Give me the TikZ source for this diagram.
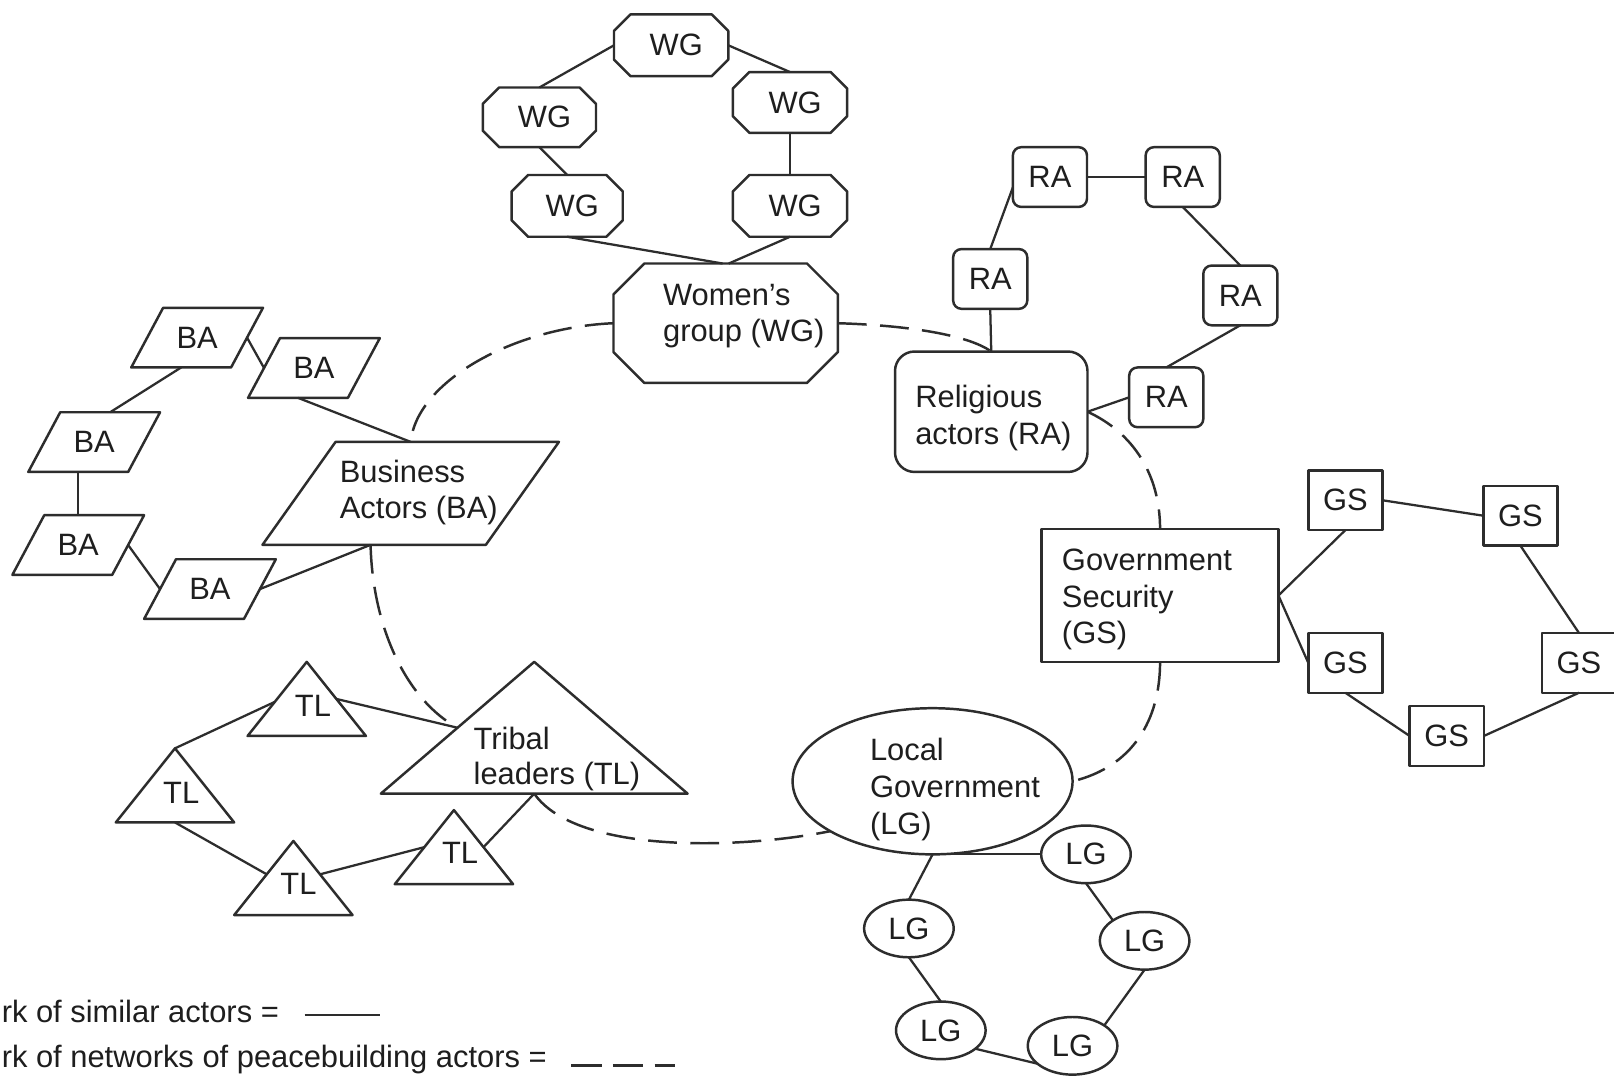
\documentclass[tikz,border=0pt]{standalone}
\usepackage{fontspec}
\setmainfont{Liberation Sans}
\usetikzlibrary{calc,shapes.geometric}
\definecolor{ink}{RGB}{45,45,45}
\definecolor{txtc}{RGB}{30,30,30}
\newcommand{\drawocta}[2]{\draw[shp] ([xshift=#2pt]#1.north west) -- ([xshift=-#2pt]#1.north east) -- ([yshift=-#2pt]#1.north east) -- ([yshift=#2pt]#1.south east) -- ([xshift=-#2pt]#1.south east) -- ([xshift=#2pt]#1.south west) -- ([yshift=#2pt]#1.south west) -- ([yshift=-#2pt]#1.north west) -- cycle;}
\newcommand{\drawpgram}[2]{\draw[shp] ([xshift=#2pt]#1.north west) -- (#1.north east) -- ([xshift=-#2pt]#1.south east) -- (#1.south west) -- cycle;}
\newcommand{\drawtri}[1]{\draw[shp] (#1.south west) -- (#1.north) -- (#1.south east) -- cycle;}
\begin{document}
\begin{tikzpicture}[x=1pt,y=-1pt,
  every node/.style={font=\fontsize{30}{36}\selectfont, text=txtc},
  sz/.style 2 args={inner sep=0pt, outer sep=0pt, minimum width=#1pt, minimum height=#2pt},
  shp/.style={draw=ink, line width=2.4pt, line join=round},
  link/.style={draw=ink, line width=2.2pt},
  netlink/.style={draw=ink, line width=2.4pt, dash pattern=on 28pt off 13pt},
  rbox/.style={shp, rounded corners=8pt, sz={72}{58}},
  gbox/.style={shp, sz={72}{58}},
  lgell/.style={shp, ellipse, sz={87}{56}},
  txt/.style={anchor=base west, inner sep=0pt}]
\fill[white] (0,0) rectangle (1568,1046);
\useasboundingbox (0,0) rectangle (1568,1046);

% ---------- Women's group ----------
\node[sz={111}{60}] (wg1) at (652,44) {\kern10pt WG};
\node[sz={110}{58}] (wg2) at (524,114) {\kern10pt WG};
\node[sz={111}{59}] (wg3) at (767.5,99.5) {\kern10pt WG};
\node[sz={108}{60}] (wg4) at (551,200) {\kern10pt WG};
\node[sz={111}{60}] (wg5) at (767.5,200) {\kern10pt WG};
\node[sz={218}{116}] (wgB) at (705,314) {};
\drawocta{wg1}{16}
\drawocta{wg2}{16}
\drawocta{wg3}{16}
\drawocta{wg4}{16}
\drawocta{wg5}{16}
\drawocta{wgB}{30}
\node[txt] (wgBt1) at (644,297) {Women's};
\node[txt] (wgBt2) at (644,332) {group (WG)};
\draw[link] (wg1.west) -- (wg2.north);
\draw[link] (wg1.east) -- (wg3.north);
\draw[link] (wg3.south) -- (wg5.north);
\draw[link] (wg2.south) -- (wg4.north);
\draw[link] (wg4.south) -- ([xshift=-3pt]wgB.north);
\draw[link] (wg5.south) -- ([xshift=3pt]wgB.north);

% ---------- Religious actors ----------
\node[rbox] (ra1) at (1020,172) {RA};
\node[rbox] (ra2) at (1149,172) {RA};
\node[rbox] (ra3) at (962,271) {RA};
\node[rbox] (ra4) at (1205,287) {RA};
\node[rbox] (ra5) at (1133,386) {RA};
\node[shp, rounded corners=19pt, sz={187}{117}] (raB) at (963,400) {};
\node[txt] (raBt1) at (889,396) {Religious};
\node[txt] (raBt2) at (889,432) {actors (RA)};
\draw[link] (ra1.east) -- (ra2.west);
\draw[link] ([yshift=-10pt]ra1.west) -- (ra3.north);
\draw[link] (ra2.south) -- (ra4.north);
\draw[link] (ra4.south) -- (ra5.north);
\draw[link] (ra5.west) -- (raB.east);
\draw[link] (ra3.south) -- (raB.north);

% ---------- Government security ----------
\node[gbox] (gs1) at (1307,486) {GS};
\node[gbox] (gs2) at (1477,501) {GS};
\node[gbox] (gs3) at (1307,644) {GS};
\node[gbox] (gs4) at (1534,644) {GS};
\node[gbox] (gs5) at (1405.5,715) {GS};
\node[shp, sz={230}{129}] (gsB) at (1127,578.5) {};
\node[txt] (gsBt1) at (1031.5,554) {Government};
\node[txt] (gsBt2) at (1031.5,590) {Security};
\node[txt] (gsBt3) at (1031.5,625) {(GS)};
\draw[link] (gsB.east) -- (gs1.south);
\draw[link] (gsB.east) -- (gs3.west);
\draw[link] (gs1.east) -- (gs2.west);
\draw[link] (gs2.south) -- (gs4.north);
\draw[link] (gs3.south) -- (gs5.west);
\draw[link] (gs5.east) -- (gs4.south);

% ---------- Local government ----------
\node[lgell] (lg1) at (1055,830) {LG};
\node[lgell] (lg2) at (883,902) {LG};
\node[lgell] (lg3) at (1112,914) {LG};
\node[lgell] (lg4) at (914,1001) {LG};
\node[lgell] (lg5) at (1042,1016) {LG};
\node[shp, ellipse, sz={272}{142}] (lgB) at (906,759) {};
\node[txt] (lgBt1) at (845,739) {Local};
\node[txt] (lgBt2) at (845,775) {Government};
\node[txt] (lgBt3) at (845,811) {(LG)};
\draw[link] (lgB.south) -- (lg2.north);
\draw[link] (lgB.south) -- (lg1.west);
\draw[link] (lg1.south) -- (lg3.north west);
\draw[link] (lg3.south) -- (lg5.north east);
\draw[link] (lg2.south) -- (lg4.north);
\draw[link] (lg4.-28) -- (lg5.207);

% ---------- Business actors ----------
\node[sz={128}{58}] (ba1) at (191.5,328) {BA};
\node[sz={128}{58}] (ba2) at (305,357.5) {BA};
\node[sz={128}{58}] (ba3) at (91.5,429.5) {BA};
\node[sz={128}{58}] (ba4) at (76,529.5) {BA};
\node[sz={128}{58}] (ba5) at (204,572.3) {BA};
\node[sz={288}{100}] (baB) at (399,479.3) {};
\drawpgram{ba1}{31}
\drawpgram{ba2}{31}
\drawpgram{ba3}{31}
\drawpgram{ba4}{31}
\drawpgram{ba5}{31}
\drawpgram{baB}{71}
\node[txt] (baBt1) at (330,469) {Business};
\node[txt] (baBt2) at (330,504) {Actors (BA)};
\draw[link] ([xshift=-15.5pt]ba1.south) -- ([xshift=15.5pt]ba3.north);
\draw[link] ([xshift=-15.5pt]ba1.east) -- ([xshift=15.5pt]ba2.west);
\draw[link] ([xshift=-15.5pt]ba2.south) -- (baB.north);
\draw[link] ([xshift=-15.5pt]ba3.south) -- (ba4.north);
\draw[link] ([xshift=-15.5pt]ba4.east) -- ([xshift=15.5pt]ba5.west);
\draw[link] ([xshift=-15.5pt]ba5.east) -- ([xshift=-39pt]baB.south);

% ---------- Tribal leaders ----------
\node[sz={115}{72}] (tl1) at (298,679) {};
\node[sz={115}{72}] (tl2) at (170,763) {};
\node[sz={115}{72}] (tl3) at (285,853) {};
\node[sz={115}{72}] (tl4) at (441,823) {};
\node[sz={298}{128}] (tlB) at (519,707) {};
\drawtri{tl1}
\drawtri{tl2}
\drawtri{tl3}
\drawtri{tl4}
\drawtri{tlB}
\node (tl1t) at (304,686) {TL};
\node (tl2t) at (176,770) {TL};
\node (tl3t) at (290,859) {TL};
\node (tl4t) at (447,829) {TL};
\node[txt] (tlBt1) at (460,728) {Tribal};
\node[txt] (tlBt2) at (460,762) {leaders (TL)};
\draw[link] ($(tl1.north)!0.54!(tl1.south west)$) -- (tl2.north);
\draw[link] ($(tl1.north)!0.5!(tl1.south east)$) -- ($(tlB.north)!0.5!(tlB.south west)$);
\draw[link] (tl2.south) -- ($(tl3.north)!0.45!(tl3.south west)$);
\draw[link] ($(tl3.north)!0.45!(tl3.south east)$) -- ($(tl4.north)!0.5!(tl4.south west)$);
\draw[link] ($(tl4.north)!0.5!(tl4.south east)$) -- (tlB.south);

% ---------- network of networks ----------
\draw[netlink] (wgB.west) .. controls (500,318) and (405,370) .. (baB.north);
\draw[netlink] (wgB.east) .. controls (880,316) and (940,325) .. (raB.north);
\draw[netlink] (raB.east) .. controls (1100,420) and (1127,460) .. (gsB.north);
\draw[netlink] (gsB.south) .. controls (1127,700) and (1100,745) .. (lgB.east);
\draw[netlink] (tlB.south) .. controls (560,830) and (720,825) .. (lgB.206);
\draw[netlink] ([xshift=-39pt]baB.south) .. controls (362,610) and (395,680) .. ($(tlB.north)!0.5!(tlB.south west)$);

% ---------- legend ----------
\node[txt] (legA) at (1.5,993) {rk of similar actors =};
\coordinate (legAa) at (296,986);
\coordinate (legAb) at (369,986);
\draw[link, line width=2.6pt] (legAa) -- (legAb);
\node[txt] (legB) at (1.5,1037) {rk of networks of peacebuilding actors =};
\coordinate (legBa) at (555,1035);
\coordinate (legBb) at (656,1035);
\draw[link, line width=2.6pt, dash pattern=on 29.5pt off 11pt] (legBa) -- (legBb);
\end{tikzpicture}
\end{document}
